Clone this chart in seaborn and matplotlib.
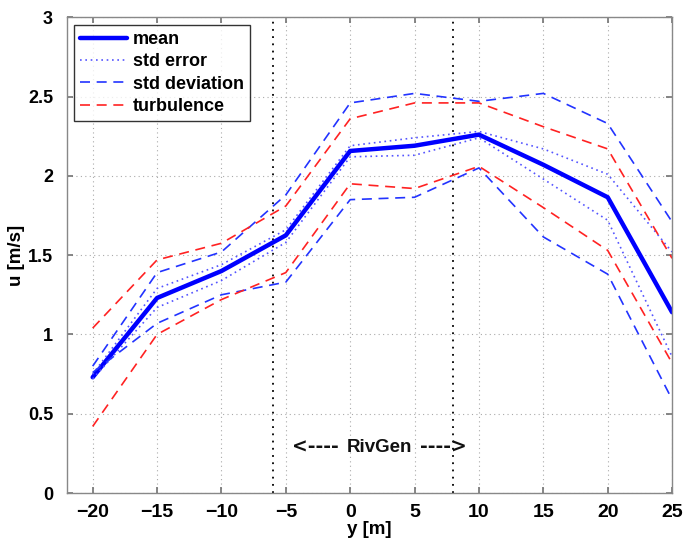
import numpy as np
import pandas as pd
import matplotlib
matplotlib.use("Agg")
import matplotlib.pyplot as plt
import seaborn as sns

y_pos = [-20, -15, -10, -5, 0, 5, 10, 15, 20, 25]
u_mean = [0.73, 1.23, 1.40, 1.625, 2.157, 2.19, 2.26, 2.07, 1.865, 1.14]
se_upper = [0.75, 1.29, 1.44, 1.66, 2.19, 2.24, 2.28, 2.17, 2.01, 1.52]
se_lower = [0.72, 1.17, 1.34, 1.58, 2.12, 2.13, 2.24, 1.98, 1.72, 0.86]
sd_upper = [0.80, 1.39, 1.52, 1.88, 2.46, 2.52, 2.47, 2.52, 2.33, 1.71]
sd_lower = [0.76, 1.07, 1.25, 1.33, 1.85, 1.865, 2.05, 1.615, 1.38, 0.59]
tu_upper = [1.04, 1.47, 1.575, 1.81, 2.36, 2.46, 2.46, 2.31, 2.17, 1.48]
tu_lower = [0.42, 1.00, 1.22, 1.39, 1.95, 1.92, 2.06, 1.80, 1.53, 0.82]
x_ticks = [-20, -15, -10, -5, 0, 5, 10, 15, 20, 25]
y_ticks = [0, 0.5, 1, 1.5, 2, 2.5, 3]
rivgen_bounds = [-6, 8]

sns.set_theme(style="white")
plt.rcParams['font.family'] = ['Liberation Sans', 'DejaVu Sans']
plt.rcParams['text.color'] = 'black'
plt.rcParams['xtick.color'] = 'black'
plt.rcParams['ytick.color'] = 'black'
plt.rcParams['axes.labelcolor'] = 'black'

fig = plt.figure(figsize=(6.83, 5.40), dpi=100)
ax = fig.add_axes([0.098, 0.087, 0.886, 0.881])

sns.lineplot(x=y_pos, y=u_mean, ax=ax, color="#0000ff", lw=3.2, label="mean")
sns.lineplot(x=y_pos, y=se_upper, ax=ax, color="#5555ff", lw=1.2, ls=(0, (1, 2.2)), label="std error")
sns.lineplot(x=y_pos, y=se_lower, ax=ax, color="#5555ff", lw=1.2, ls=(0, (1, 2.2)), label="_nolegend_")
sns.lineplot(x=y_pos, y=sd_upper, ax=ax, color="#2233ff", lw=1.2, ls=(0, (6, 4)), label="std deviation")
sns.lineplot(x=y_pos, y=sd_lower, ax=ax, color="#2233ff", lw=1.2, ls=(0, (6, 4)), label="_nolegend_")
sns.lineplot(x=y_pos, y=tu_upper, ax=ax, color="#ff2222", lw=1.2, ls=(0, (6, 4)), label="turbulence")
sns.lineplot(x=y_pos, y=tu_lower, ax=ax, color="#ff2222", lw=1.2, ls=(0, (6, 4)), label="_nolegend_")

for xb in rivgen_bounds:
    ax.axvline(xb, color="black", lw=1.3, ls=(0, (1, 3)), zorder=1)

ax.text(-0.85, 0.29, "<----", ha="right", va="center", fontsize=13.5,
        fontweight="bold", family="DejaVu Sans", color="#111111")
ax.text(2.3, 0.29, "RivGen", ha="center", va="center", fontsize=13.5,
        fontweight="bold", color="#111111")
ax.text(5.4, 0.29, "---->", ha="left", va="center", fontsize=13.5,
        fontweight="bold", family="DejaVu Sans", color="#111111")

ax.set_xlim(-22, 25)
ax.set_ylim(0, 3)
ax.set_xticks(x_ticks)
ax.set_yticks(y_ticks)
ax.set_xticklabels(["\u2212" + str(abs(v)) if v < 0 else str(v) for v in x_ticks])
ax.set_yticklabels([("%g" % v) for v in y_ticks])
ax.grid(True, axis="both", color="#aaaaaa", ls=(0, (1, 3)), lw=0.8)
for lbl in ax.get_xticklabels():
    lbl.set_fontweight("bold")
    lbl.set_fontsize(14)
for lbl in ax.get_yticklabels():
    lbl.set_fontweight("bold")
    lbl.set_fontsize(13)
ax.tick_params(axis="both", direction="in", length=4, color="#777777", pad=8,
               top=True, right=True, bottom=True, left=True)
ax.tick_params(axis="y", pad=10)
for sp in ax.spines.values():
    sp.set_color("#888888")
    sp.set_linewidth(1.0)

ax.set_xlabel("y [m]", fontsize=13.5, fontweight="bold", labelpad=0)
ax.set_ylabel("u [m/s]", fontsize=13.5, fontweight="bold", labelpad=2)

leg = ax.legend(loc="upper left", fontsize=13, frameon=True, fancybox=False,
                edgecolor="black", handlelength=2.6, borderpad=0.35, labelspacing=0.3,
                handletextpad=0.3, borderaxespad=0.4)
leg.get_frame().set_linewidth(1.0)
for t in leg.get_texts():
    t.set_fontweight("bold")

fig.savefig("out.png", dpi=100)
